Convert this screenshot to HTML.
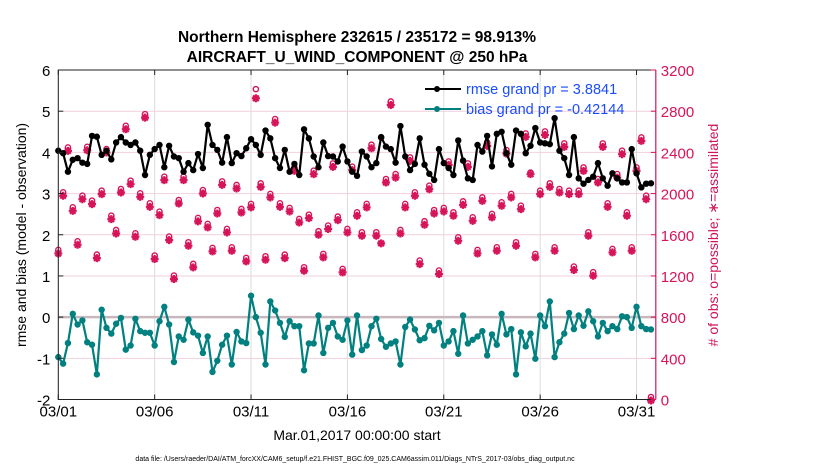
<!DOCTYPE html>
<html><head><meta charset="utf-8"><style>
body{margin:0;background:#fff;}
svg{display:block;font-family:"Liberation Sans",sans-serif;}
</style></head><body>
<svg id="chart" width="830" height="470" viewBox="0 0 830 470">
<text x="357" y="42" text-anchor="middle" font-size="15.5" font-weight="bold">Northern Hemisphere 232615 / 235172 = 98.913%</text>
<text x="357" y="62" text-anchor="middle" font-size="15.5" font-weight="bold">AIRCRAFT_U_WIND_COMPONENT @ 250 hPa</text>
<text transform="translate(26,235) rotate(-90)" text-anchor="middle" font-size="14">rmse and bias (model - observation)</text>
<text transform="translate(718,235) rotate(-90)" text-anchor="middle" font-size="14" fill="#d0145a"># of obs: o=possible; ∗=assimilated</text>
<text x="357" y="440" text-anchor="middle" font-size="14">Mar.01,2017 00:00:00 start</text>
<text x="355" y="461" text-anchor="middle" font-size="7">data file: /Users/raeder/DAI/ATM_forcXX/CAM6_setup/f.e21.FHIST_BGC.f09_025.CAM6assim.011/Diags_NTrS_2017-03/obs_diag_output.nc</text>
<g id="grid"></g><g id="marks"></g><g id="axes"></g>
<g>
<line x1="425" y1="89" x2="461" y2="89" stroke="#000" stroke-width="2"/><circle cx="437" cy="89" r="3" fill="#000"/>
<text x="466" y="94" font-size="14.5" fill="#1a4cff">rmse grand pr = 3.8841</text>
<line x1="425" y1="109" x2="461" y2="109" stroke="#00807f" stroke-width="2"/><circle cx="437" cy="109" r="3" fill="#00807f"/>
<text x="466" y="114" font-size="14.5" fill="#1a4cff">bias grand pr = -0.42144</text>
</g>
</svg>
<script>
const rmse=[4.04,3.98,3.53,3.82,3.86,3.75,3.72,4.40,4.38,3.94,4.04,3.83,4.24,4.37,4.24,4.18,4.24,4.04,3.45,3.94,4.08,4.18,3.64,4.16,3.90,3.86,3.53,3.74,3.57,3.96,3.62,4.67,4.18,4.06,3.75,4.37,3.74,3.98,
3.91,4.10,4.32,4.18,3.94,4.53,4.34,3.86,3.62,4.06,3.53,3.72,3.45,4.56,4.34,3.90,3.64,4.24,3.91,3.90,3.78,4.14,3.78,3.53,3.43,4.02,3.90,3.64,3.74,4.37,4.14,4.08,3.75,4.64,3.90,3.57,3.72,4.34,3.70,3.48,3.33,4.08,3.74,
3.62,3.45,4.29,3.80,3.37,3.33,4.18,4.02,4.40,3.66,4.45,4.50,3.98,3.70,4.53,4.45,3.98,4.16,4.59,4.24,4.22,4.20,4.83,4.04,3.86,3.45,4.37,3.37,3.24,3.33,3.41,3.74,3.37,3.19,3.49,3.37,3.27,3.27,4.08,3.49,3.15,3.24,3.25];
const bias=[-0.97,-1.13,-0.63,0.08,-0.18,-0.08,-0.61,-0.67,-1.39,0.18,-0.26,-0.40,-0.16,-0.02,-0.79,-0.69,-0.04,-0.34,-0.38,-0.38,-0.69,-0.10,0.25,-0.18,-1.09,-0.47,-0.55,-0.06,-0.37,-0.45,-0.87,-0.47,-1.33,-1.06,-0.67,-0.45,-1.15,-0.36,
-0.59,-0.63,0.52,0.00,-0.38,-1.15,0.38,0.16,-0.14,-0.48,-0.10,-0.22,-0.22,-1.29,-0.64,-0.64,0.04,-0.87,-0.26,-0.14,-0.47,-0.55,-0.08,-0.91,0.04,-0.80,-0.69,-0.22,-0.04,-0.53,-0.72,-0.64,-0.59,-1.15,-0.24,-0.06,-0.30,-0.56,-0.51,-0.21,-0.32,-0.14,-0.69,
-0.59,-0.34,-0.89,0.04,-0.64,-0.55,-0.47,-0.34,-0.93,-0.42,-0.67,0.08,-0.42,-0.29,-1.39,-0.37,-0.71,-0.40,-1.01,0.04,-0.22,0.38,-0.97,-0.61,-0.40,0.10,-0.29,0.04,-0.21,0.14,-0.10,-0.47,-0.14,-0.34,-0.22,-0.29,0.02,0.00,-0.26,0.25,-0.22,-0.29,-0.30];
const nAssim=[1428,1988,2424,1842,1512,1955,2430,1907,1383,2004,2408,1761,1622,2020,2634,2101,1590,1978,2747,1881,1374,1800,2140,1558,1180,1913,2140,1503,1293,1739,2010,1681,1448,1816,2094,1632,1454,2059,
1826,1351,1875,2935,2075,1367,1972,2699,1881,1383,1836,2230,1729,1260,1771,2198,1610,1390,1665,2269,1752,1244,1632,2237,1794,1600,1875,2450,1600,1526,2117,2870,2165,1622,1875,2327,1988,1325,1707,2052,1816,1228,1836,
2288,1794,1551,1900,2269,1745,1428,1939,2473,1778,1454,1891,2398,1972,1503,1858,2560,2198,1390,2004,2579,2075,1454,2020,2463,2004,1267,2004,2230,1600,1212,2117,2463,1881,1438,2165,2392,1794,1454,2230,2521,1955,0];
const nPoss=nAssim.map(v=>v);
nPoss[41]=2990;nPoss[98]=2180;nPoss[67]=2520;
const dateLabels=["03/01","03/06","03/11","03/16","03/21","03/26","03/31"];
const leftTicks=[-2,-1,0,1,2,3,4,5,6];
const rightTicks=[0,400,800,1200,1600,2000,2400,2800,3200];

const X0=58.3,X1=655.8,Y0=70,Y1=399.5;
const xs=i=>X0+(X1-X0)*i/124;
const xDay=d=>X0+(X1-X0)*d/31;
const yL=v=>Y1-(v+2)/8*(Y1-Y0);
const yR=v=>Y1-v/3200*(Y1-Y0);
const NS="http://www.w3.org/2000/svg";
function mk(p,t,a){const e=document.createElementNS(NS,t);for(const k in a)e.setAttribute(k,a[k]);p.appendChild(e);return e;}
const grid=document.getElementById('grid'),marks=document.getElementById('marks'),axes=document.getElementById('axes');
leftTicks.forEach(v=>{const g=mk(grid,'line',{x1:X0,x2:X1,y1:yL(v),y2:yL(v),stroke:'#f2cfdc','stroke-width':1});

});
dateLabels.forEach((l,k)=>{const g=mk(grid,'line',{x1:xDay(5*k),x2:xDay(5*k),y1:Y0,y2:Y1,stroke:'#dcdcdc','stroke-width':1});

});
const z=mk(grid,'line',{x1:X0,x2:X1,y1:yL(0),y2:yL(0),stroke:'#c8b8be','stroke-width':2.5});


function starPath(x,y,r){let d='';for(let k=0;k<4;k++){const a=k*Math.PI/4;const dx=r*Math.cos(a),dy=r*Math.sin(a);d+=`M${x-dx},${y-dy}L${x+dx},${y+dy}`;}return d;}
nAssim.forEach((v,i)=>{const x=xs(i);
const o=mk(marks,'circle',{cx:x,cy:yR(nPoss[i])-2.5,r:2.6,fill:'none',stroke:'#d6145a','stroke-width':1.4});


const s=mk(marks,'path',{d:starPath(x,yR(v)+1,4),stroke:'#d6145a','stroke-width':2.2,fill:'none'});

});
function series(arr,col,name){
const p=mk(marks,'polyline',{points:arr.map((v,i)=>xs(i)+','+yL(v)).join(' '),fill:'none',stroke:col,'stroke-width':2.2,'stroke-linejoin':'round'});


arr.forEach((v,i)=>{const c=mk(marks,'circle',{cx:xs(i),cy:yL(v),r:3.2,fill:col});

});}
series(rmse,'#000','rmse');
series(bias,'#00807f','bias');
const f=mk(axes,'path',{d:`M${X1},${Y1}H${X0}V${Y0}H${X1}`,fill:'none',stroke:'#222','stroke-width':1});


const ra=mk(axes,'line',{x1:X1,x2:X1,y1:Y0,y2:Y1,stroke:'#d6145a','stroke-width':1.2});


leftTicks.forEach(v=>{mk(axes,'line',{x1:X0,x2:X0+5,y1:yL(v),y2:yL(v),stroke:'#222'});
const t=mk(axes,'text',{x:X0-8,y:yL(v)+6,'text-anchor':'end','font-size':15});t.textContent=v;

});
rightTicks.forEach(v=>{mk(axes,'line',{x1:X1-5,x2:X1,y1:yR(v),y2:yR(v),stroke:'#d6145a'});
const t=mk(axes,'text',{x:X1+5,y:yR(v)+6,'font-size':15,fill:'#d6145a'});t.textContent=v;

});
dateLabels.forEach((l,k)=>{const x=xDay(5*k);mk(axes,'line',{x1:x,x2:x,y1:Y1,y2:Y1-5,stroke:'#222'});mk(axes,'line',{x1:x,x2:x,y1:Y0,y2:Y0+5,stroke:'#222'});
const t=mk(axes,'text',{x:x,y:Y1+17,'text-anchor':'middle','font-size':15});t.textContent=l;

});
</script>
</body></html>
